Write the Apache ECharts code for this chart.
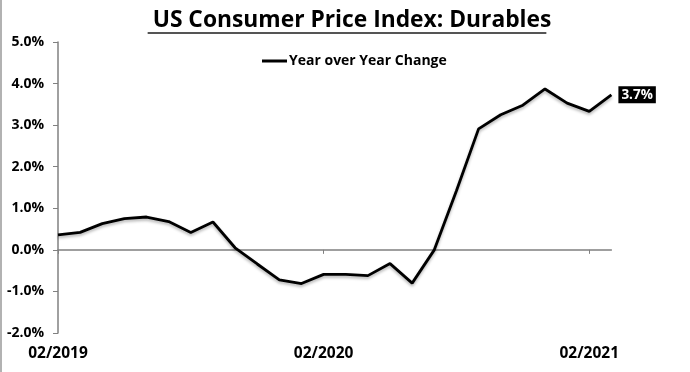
<!DOCTYPE html>
<html>
<head>
<meta charset="utf-8">
<script src="https://cdn.jsdelivr.net/npm/echarts@6/dist/echarts.min.js"></script>
<style>
html,body{margin:0;padding:0;background:#fff;}
#chart{width:690px;height:372px;}
</style>
</head>
<body>
<div id="chart"></div>
<script>
const categories = ['02/2019','03/2019','04/2019','05/2019','06/2019','07/2019','08/2019','09/2019','10/2019','11/2019','12/2019','01/2020',
  '02/2020','03/2020','04/2020','05/2020','06/2020','07/2020','08/2020','09/2020','10/2020','11/2020','12/2020','01/2021',
  '02/2021','03/2021'];
const yoyChange = [0.36,0.42,0.63,0.75,0.79,0.68,0.42,0.67,0.05,-0.34,-0.72,-0.81,
  -0.59,-0.59,-0.62,-0.33,-0.80,0.0,1.42,2.91,3.25,3.48,3.87,3.53,
  3.33,3.73];
const seriesName = 'Year over Year Change';
const titleText = 'US Consumer Price Index: Durables';
const yMin = -2, yMax = 5, yStep = 1;

const FONT = 'Open Sans';
const chart = echarts.init(document.getElementById('chart'));

// measure title for underline
const cv = document.createElement('canvas').getContext('2d');
const titleSize = 22.8;
cv.font = 'bold ' + titleSize + 'px "' + FONT + '"';
const tw = cv.measureText(titleText).width;
const tcx = 347;

chart.setOption({
  animation: false,
  backgroundColor: '#fff',
  title: {
    text: titleText,
    left: tcx, textAlign: 'center', top: 4,
    textStyle: {fontFamily: FONT, fontWeight: 'bold', fontSize: titleSize, color: '#000'}
  },
  graphic: [
    {type: 'line', shape: {x1: tcx - tw/2, y1: 33, x2: tcx + tw/2, y2: 33}, style: {stroke: '#555', lineWidth: 2}},
    {type: 'line', shape: {x1: 1, y1: 0, x2: 1, y2: 372}, style: {stroke: '#999', lineWidth: 1.5}}
  ],
  legend: {
    data: [seriesName],
    left: 257, top: 49,
    icon: 'rect', itemWidth: 25, itemHeight: 3, itemGap: 0,
    textStyle: {fontFamily: FONT, fontWeight: 'bold', fontSize: 14, color: '#000', padding: [0, 0, 0, -3]}
  },
  grid: {left: 58, right: 78.6, top: 42, bottom: 39, containLabel: false},
  xAxis: [
    {
      type: 'category', data: categories, boundaryGap: false,
      axisLine: {show: false, onZero: false}, axisTick: {show: false},
      axisLabel: {interval: 11, margin: 13, fontFamily: FONT, fontWeight: 'bold', fontSize: 15.5, color: '#000'}
    },
    {
      type: 'category', data: categories, boundaryGap: false, position: 'bottom',
      axisLine: {show: true, onZero: true, lineStyle: {color: '#808080', width: 1.5}},
      axisTick: {show: true, interval: 11, length: 4, inside: false, lineStyle: {color: '#808080'}},
      axisLabel: {show: false}
    }
  ],
  yAxis: {
    type: 'value', min: yMin, max: yMax, interval: yStep,
    axisLine: {show: true, lineStyle: {color: '#808080', width: 1.5}},
    axisTick: {show: true, length: 5, lineStyle: {color: '#808080'}},
    splitLine: {show: false},
    axisLabel: {margin: 14, fontFamily: FONT, fontWeight: 'bold', fontSize: 14, color: '#000',
      formatter: v => v.toFixed(1) + '%'}
  },
  series: [{
    name: seriesName, type: 'line', data: yoyChange, xAxisIndex: 0,
    symbol: 'none', smooth: false,
    lineStyle: {color: '#000', width: 2.8, shadowColor: 'rgba(0,0,0,0.3)', shadowBlur: 3, shadowOffsetY: 2},
    itemStyle: {color: '#000'},
    endLabel: {
      show: true, distance: 7,
      formatter: p => Number(p.value).toFixed(1) + '%',
      backgroundColor: '#000', color: '#fff',
      fontFamily: FONT, fontWeight: 'bold', fontSize: 13.5,
      padding: [2, 3, 1, 3]
    }
  }]
});
</script>
</body>
</html>
